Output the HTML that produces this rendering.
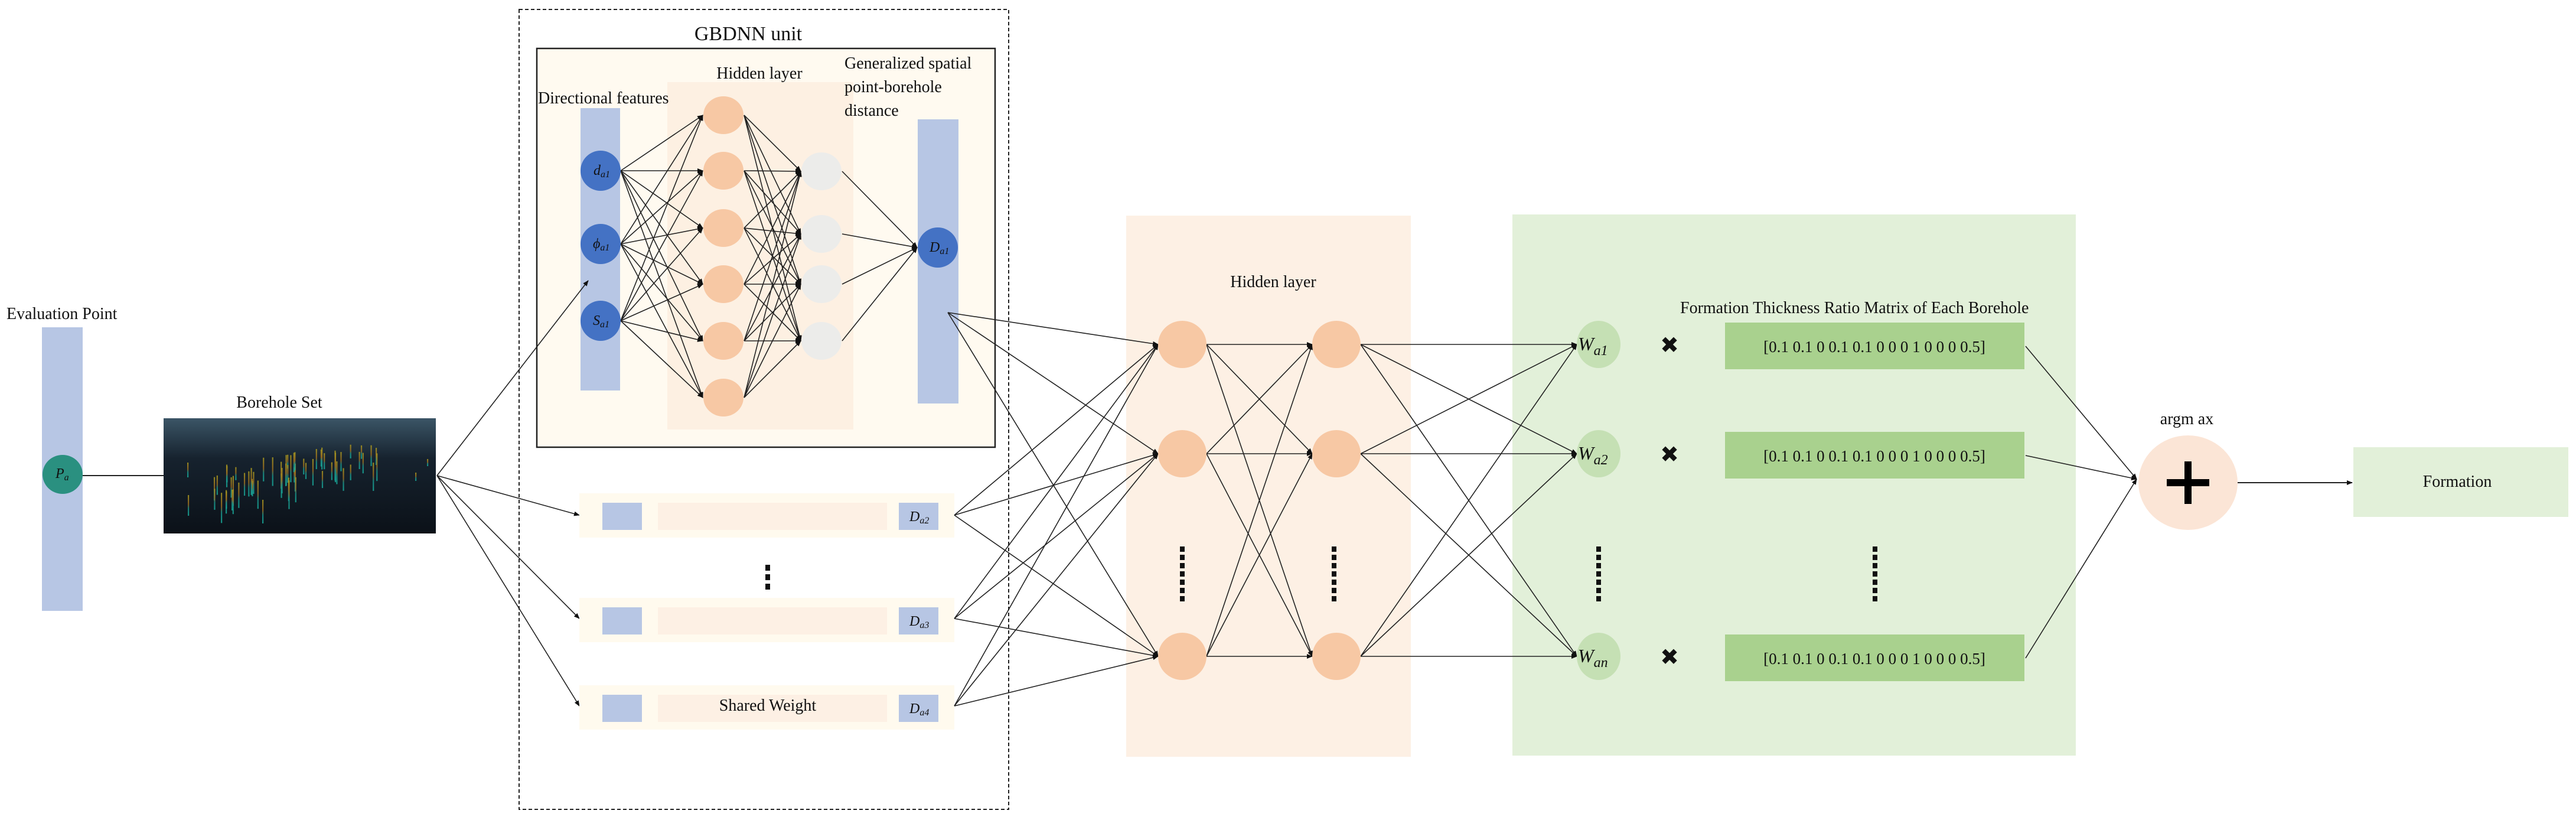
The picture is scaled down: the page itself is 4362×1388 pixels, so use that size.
<!DOCTYPE html>
<html><head><meta charset="utf-8"><style>
html,body{margin:0;padding:0;background:#fff}
svg{display:block}
text{font-family:"Liberation Serif",serif;fill:#111}
</style></head><body>
<svg id="s" width="4362" height="1388" viewBox="0 0 4362 1388" xmlns="http://www.w3.org/2000/svg">
<defs>
<marker id="ar" markerWidth="10" markerHeight="8" refX="9" refY="4" orient="auto" markerUnits="userSpaceOnUse"><path d="M0,0 L10,4 L0,8 z" fill="#111"/></marker>
<linearGradient id="bg" x1="0" y1="0" x2="0" y2="1"><stop offset="0" stop-color="#3b5566"/><stop offset="0.35" stop-color="#16222e"/><stop offset="1" stop-color="#0b1118"/></linearGradient>
<linearGradient id="st" x1="0" y1="0" x2="0" y2="1"><stop offset="0" stop-color="#a89a20"/><stop offset="0.45" stop-color="#9a6a20"/><stop offset="0.65" stop-color="#1a9088"/><stop offset="1" stop-color="#18a898"/></linearGradient>
</defs>
<rect x="879" y="16" width="829" height="1354" fill="none" stroke="#222" stroke-width="2" stroke-dasharray="6,4"/>
<text x="1267" y="68" font-size="34" text-anchor="middle">GBDNN unit</text>
<rect x="909" y="82" width="776" height="675" fill="#fffaf0" stroke="#222" stroke-width="2.5"/>
<rect x="1130" y="139" width="315" height="588" fill="#fdf0e2"/>
<text x="1286" y="133" font-size="28" text-anchor="middle">Hidden layer</text>
<text x="911" y="175" font-size="28">Directional features</text>
<text x="1430" y="116" font-size="28">Generalized spatial</text>
<text x="1430" y="156" font-size="28">point-borehole</text>
<text x="1430" y="196" font-size="28">distance</text>
<rect x="983" y="183" width="67" height="478" fill="#b7c6e4"/>
<rect x="1554" y="202" width="69" height="481" fill="#b7c6e4"/>
<g id="gb"></g>
<circle cx="1017" cy="289" r="34" fill="#4472c4"/><text x="1005" y="296" font-size="24" font-style="italic">d<tspan font-size="16" dy="4">a1</tspan></text>
<circle cx="1017" cy="413" r="34" fill="#4472c4"/><text x="1004" y="420" font-size="24" font-style="italic">ϕ<tspan font-size="16" dy="4">a1</tspan></text>
<circle cx="1017" cy="543" r="34" fill="#4472c4"/><text x="1004" y="550" font-size="24" font-style="italic">S<tspan font-size="16" dy="4">a1</tspan></text>
<circle cx="1588" cy="419" r="34" fill="#4472c4"/><text x="1574" y="426" font-size="24" font-style="italic">D<tspan font-size="16" dy="4">a1</tspan></text>
<text x="11" y="540" font-size="28">Evaluation Point</text>
<rect x="71" y="554" width="69" height="480" fill="#b7c6e4"/>
<line x1="140" y1="805" x2="277" y2="805" stroke="#222" stroke-width="2"/>
<ellipse cx="106" cy="803" rx="34" ry="33" fill="#2a9080"/><text x="94" y="809" font-size="24" font-style="italic">P<tspan font-size="16" dy="4">a</tspan></text>
<text x="473" y="690" font-size="28" text-anchor="middle">Borehole Set</text>
<rect x="277" y="708" width="461" height="195" fill="url(#bg)"/>
<g id="sticks"></g>
<g id="rows"></g>
<text x="1300" y="1203" font-size="28" text-anchor="middle">Shared Weight</text>
<rect x="1296" y="956" width="8" height="10" fill="#111"/><rect x="1296" y="972" width="8" height="10" fill="#111"/><rect x="1296" y="988" width="8" height="10" fill="#111"/>
<rect x="1907" y="365" width="482" height="916" fill="#fdf0e4"/>
<text x="2156" y="486" font-size="28" text-anchor="middle">Hidden layer</text>
<rect x="2561" y="363" width="954" height="916" fill="#e2f0d9"/>
<text x="2845" y="530" font-size="28">Formation Thickness Ratio Matrix of Each Borehole</text>
<g id="mat"></g>
<g id="lines"></g>
<g id="nodes"></g>
<text x="3703" y="718" font-size="28" text-anchor="middle">argm ax</text>
<ellipse cx="3705" cy="817" rx="84" ry="80" fill="#fbe5d6"/>
<rect x="3669" y="811" width="72" height="12" fill="#000"/><rect x="3699" y="781" width="12" height="72" fill="#000"/>
<line x1="3789" y1="817" x2="3983" y2="817" stroke="#222" stroke-width="2" marker-end="url(#ar)"/>
<rect x="3985" y="757" width="364" height="118" fill="#e2f0d9"/>
<text x="4161" y="824" font-size="28" text-anchor="middle">Formation</text>
</svg>
<script>
const NS="http://www.w3.org/2000/svg";
function el(p,t,a,txt){const e=document.createElementNS(NS,t);for(const k in a)e.setAttribute(k,a[k]);if(txt)e.textContent=txt;document.getElementById(p).appendChild(e);return e;}
function ln(p,x1,y1,x2,y2,arr){const a={x1,y1,x2,y2,stroke:"#222","stroke-width":1.6};if(arr)a["marker-end"]="url(#ar)";el(p,"line",a);}
const bl=[289,413,543], og=[195,289,386,481,577,673], gr=[290,396,481,577];
bl.forEach(y=>og.forEach(y2=>ln("gb",1051,y,1190,y2,true)));
og.forEach(y=>gr.forEach(y2=>ln("gb",1260,y,1356,y2,true)));
gr.forEach(y=>ln("gb",1426,y,1553,419,true));
og.forEach(y=>el("gb","ellipse",{cx:1225,cy:y,rx:34,ry:32,fill:"#f7c8a4"}));
gr.forEach(y=>el("gb","ellipse",{cx:1391,cy:y,rx:34,ry:32,fill:"#ececea"}));
ln("gb",740,805,996,475,true);
[872,1047,1195].forEach(y=>ln("gb",740,805,981,y,true));
const rows=[[835,"a2"],[1012,"a3"],[1160,"a4"]];
rows.forEach(([y,s])=>{el("rows","rect",{x:981,y:y,width:635,height:75,fill:"#fffaee"});
el("rows","rect",{x:1020,y:y+16,width:67,height:46,fill:"#b7c6e4"});
el("rows","rect",{x:1114,y:y+16,width:388,height:46,fill:"#fdf0e4"});
el("rows","rect",{x:1522,y:y+16,width:67,height:46,fill:"#b7c6e4"});
const t=el("rows","text",{x:1540,y:y+47,"font-size":24,"font-style":"italic"},"D");
const ts=document.createElementNS(NS,"tspan");ts.setAttribute("font-size",16);ts.setAttribute("dy",4);ts.textContent=s;t.appendChild(ts);});
let seed=7;function r(){seed=(seed*9301+49297)%233280;return seed/233280;}
for(let i=0;i<60;i++){const x=360+r()*280;const f=(x-360)/280;const top=790-f*55+r()*50;const h=22+r()*30;
el("sticks","rect",{x:x,y:top,width:2.2,height:h,fill:"url(#st)",opacity:0.85});}
[[317,783,25],[318,838,35],[392,829,35],[444,846,40],[703,800,14],[723,777,12]].forEach(([x,y,h])=>el("sticks","rect",{x:x,y:y,width:2.2,height:h,fill:"url(#st)",opacity:0.85}));
const c1=[583,768,1111], srcs=[[1605,529],[1616,872],[1616,1047],[1616,1195]];
srcs.forEach(([x,y])=>c1.forEach(y2=>ln("lines",x,y,1961,y2,true)));
c1.forEach(y=>c1.forEach(y2=>ln("lines",2043,y,2222,y2,true)));
c1.forEach(y=>c1.forEach(y2=>ln("lines",2304,y,2670,y2,true)));
c1.forEach(y=>{el("nodes","ellipse",{cx:2002,cy:y,rx:41,ry:40,fill:"#f7c8a4"});el("nodes","ellipse",{cx:2263,cy:y,rx:41,ry:40,fill:"#f7c8a4"});});
const ws=["a1","a2","an"], my=[546,731,1074];
c1.forEach((y,i)=>{el("nodes","ellipse",{cx:2707,cy:y,rx:37,ry:40,fill:"#c5e0b4"});
const t=el("nodes","text",{x:2672,y:y+10,"font-size":32,"font-style":"italic"},"W");const ts=document.createElementNS(NS,"tspan");ts.setAttribute("font-size",24);ts.setAttribute("dy",8);ts.textContent=ws[i];t.appendChild(ts);
el("nodes","text",{x:2827,y:y+14,"font-size":38,"text-anchor":"middle","font-family":"DejaVu Sans"},"✖");
el("mat","rect",{x:2921,y:my[i],width:507,height:79,fill:"#a9d18e"});
el("mat","text",{x:3174,y:my[i]+50,"font-size":27,"text-anchor":"middle"},"[0.1 0.1 0 0.1 0.1 0 0 0 1 0 0 0 0.5]");
ln("lines",3430,my[i]+40,3618,811,true);});
[2002,2259,2707,3175].forEach(x=>{for(let k=0;k<7;k++)el("nodes","rect",{x:x-4,y:925+k*14,width:8,height:9,fill:"#111"});});
</script>
</body></html>
